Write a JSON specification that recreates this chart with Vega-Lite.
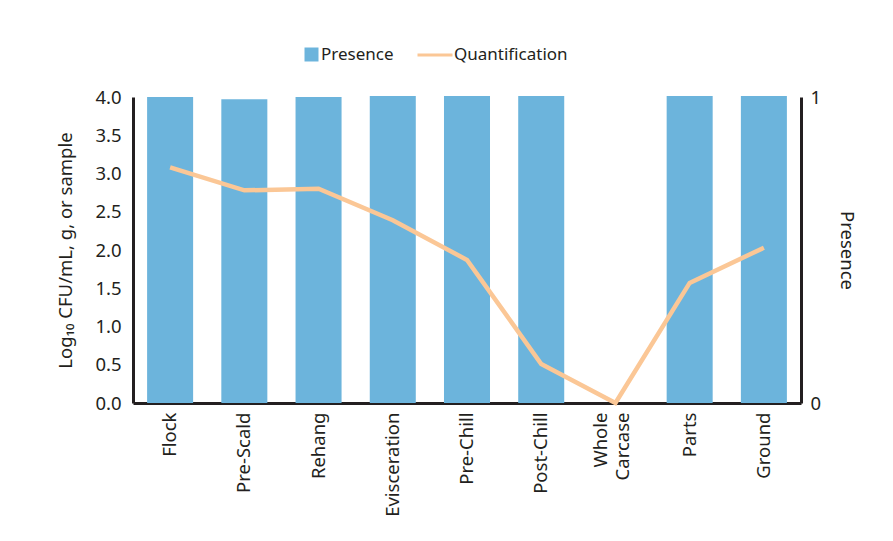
{
  "$schema": "https://vega.github.io/schema/vega-lite/v6.json",
  "autosize": {"type": "none"},
  "width": 668,
  "height": 306,
  "padding": {"left": 133, "top": 97, "right": 92, "bottom": 138},
  "background": "white",
  "config": {
    "font": "Noto Sans",
    "view": {"stroke": null},
    "axis": {"labelFont": "Noto Sans", "titleFont": "Noto Sans", "labelColor": "#231f20", "titleColor": "#231f20", "grid": false, "ticks": false, "domainColor": "#231f20", "domainWidth": 3, "labelFontSize": 18.5, "titleFontSize": 18.5, "titleFontWeight": "normal"},
    "legend": {"labelFont": "Noto Sans", "labelFontSize": 17, "labelColor": "#231f20", "padding": 0}
  },
  "data": {"values": [
    {"stage": "Flock", "presence": 1.0, "quant": 3.08},
    {"stage": "Pre-Scald", "presence": 0.993, "quant": 2.78},
    {"stage": "Rehang", "presence": 1.0, "quant": 2.8},
    {"stage": "Evisceration", "presence": 1.003, "quant": 2.39},
    {"stage": "Pre-Chill", "presence": 1.003, "quant": 1.87},
    {"stage": "Post-Chill", "presence": 1.003, "quant": 0.51},
    {"stage": "Whole Carcase", "presence": 0, "quant": 0},
    {"stage": "Parts", "presence": 1.003, "quant": 1.57},
    {"stage": "Ground", "presence": 1.003, "quant": 2.03}
  ]},
  "encoding": {
    "x": {"field": "stage", "type": "nominal", "sort": null,
      "scale": {"paddingInner": 0.38, "paddingOuter": 0.19},
      "axis": {"title": null, "labelAngle": -90, "labelAlign": "right", "labelBaseline": "middle", "labelPadding": 9, "labelExpr": "split(datum.label, ' ')", "labelLineHeight": 22, "labelOffset": {"expr": "datum.value == 'Whole Carcase' ? -14 : 0"}}}
  },
  "layer": [
    {
      "mark": {"type": "bar", "clip": false},
      "encoding": {
        "y": {"field": "presence", "type": "quantitative", "scale": {"domain": [0, 1], "nice": false},
          "axis": {"orient": "right", "title": "Presence", "values": [0, 1], "format": "d", "labelPadding": 9, "titlePadding": 16}},
        "fill": {"datum": "Presence", "type": "nominal", "scale": {"range": ["#6cb4dc"]},
          "legend": {"title": null, "orient": "none", "legendX": 170, "legendY": -51, "symbolType": "square", "symbolSize": 196, "symbolStrokeWidth": 0, "labelOffset": 1}}
      }
    },
    {
      "mark": {"type": "line", "strokeWidth": 4.5},
      "encoding": {
        "y": {"field": "quant", "type": "quantitative", "scale": {"domain": [0, 4], "nice": false},
          "axis": {"orient": "left", "title": "Log₁₀ CFU/mL, g, or sample", "values": [0, 0.5, 1, 1.5, 2, 2.5, 3, 3.5, 4], "format": ".1f", "labelPadding": 12, "titlePadding": 19}},
        "stroke": {"datum": "Quantification", "type": "nominal", "scale": {"range": ["#fbc796"]},
          "legend": {"title": null, "orient": "none", "legendX": 283, "legendY": -61, "symbolType": "stroke", "symbolSize": 1225, "symbolStrokeWidth": 3, "labelOffset": 0}}
      }
    }
  ],
  "resolve": {"scale": {"y": "independent"}}
}
